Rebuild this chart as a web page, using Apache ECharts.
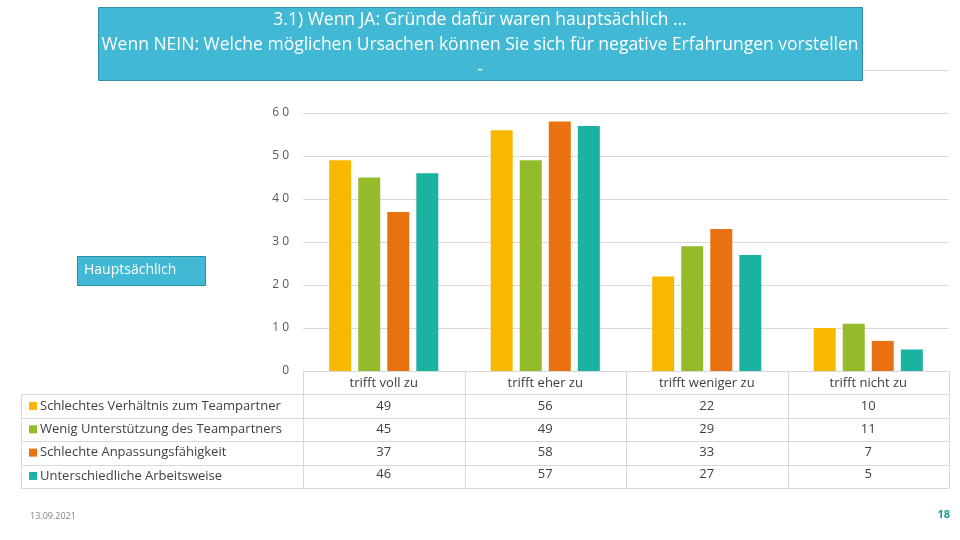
<!DOCTYPE html>
<html><head><meta charset="utf-8">
<script src="https://cdn.jsdelivr.net/npm/echarts@6/dist/echarts.min.js"></script>
<style>html,body{margin:0;padding:0;background:#fff}#c{width:960px;height:540px}</style>
</head><body><div id="c"></div>
<script>
var categories = ['trifft voll zu', 'trifft eher zu', 'trifft weniger zu', 'trifft nicht zu'];
var seriesNames = ['Schlechtes Verhältnis zum Teampartner', 'Wenig Unterstützung des Teampartners', 'Schlechte Anpassungsfähigkeit', 'Unterschiedliche Arbeitsweise'];
var verhaeltnis = [49, 56, 22, 10];
var unterstuetzung = [45, 49, 29, 11];
var anpassung = [37, 58, 33, 7];
var arbeitsweise = [46, 57, 27, 5];
var yTicks = [0, 10, 20, 30, 40, 50, 60];
var titleText = '3.1) Wenn JA: Gründe dafür waren hauptsächlich …\nWenn NEIN: Welche möglichen Ursachen können Sie sich für negative Erfahrungen vorstellen\n-';
var sideLabel = 'Hauptsächlich';
var dateText = '13.09.2021';
var pageText = '18';

var colors = ['#F9B800', '#94BC2A', '#EA710F', '#1AB2A0'];
var allSeries = [verhaeltnis, unterstuetzung, anpassung, arbeitsweise];
var font = '"Open Sans", "Noto Sans", sans-serif';

var G = {left: 303, right: 949, top: 113, bottom: 371};
var rowH = 23.5;
var tableLines = [];
var lc = '#D9D9D9';
function hl(x1, x2, y) { tableLines.push({type: 'line', silent: true, shape: {x1: x1, y1: y, x2: x2, y2: y}, style: {stroke: lc, lineWidth: 1}}); }
function vl(x, y1, y2) { tableLines.push({type: 'line', silent: true, shape: {x1: x, y1: y1, x2: x, y2: y2}, style: {stroke: lc, lineWidth: 1}}); }
var tableTop = 394;
var tableBottom = tableTop + rowH * seriesNames.length;
for (var r = 0; r <= seriesNames.length; r++) hl(21, G.right, Math.round(tableTop + r * rowH) + 0.5);
vl(21.5, tableTop + 0.5, Math.round(tableBottom) + 0.5);
var cw = (G.right - G.left) / categories.length;
for (var c = 0; c <= categories.length; c++) vl(Math.round(G.left + c * cw) + 0.5, G.bottom, Math.round(tableBottom) + 0.5);

var chart = echarts.init(document.getElementById('c'), null, {renderer: 'canvas'});
chart.setOption({
  animation: false,
  color: colors,
  grid: {left: G.left, right: 960 - G.right, top: G.top, bottom: 540 - G.bottom, containLabel: false},
  legend: {
    orient: 'vertical', left: 24, top: tableTop - 1, itemGap: 7.3,
    icon: 'rect', itemWidth: 8, itemHeight: 8,
    data: seriesNames,
    textStyle: {color: '#404040', fontSize: 13, fontFamily: font, lineHeight: 16, padding: [0, 0, 0, -2]},
    selectedMode: false
  },
  xAxis: {
    type: 'category', data: categories,
    axisLine: {show: false}, axisTick: {show: false},
    axisLabel: {
      margin: 1, color: '#404040', fontFamily: font, fontSize: 13, lineHeight: 22.8,
      formatter: function (v, i) {
        var lines = [v];
        for (var s = 0; s < allSeries.length; s++) lines.push(String(allSeries[s][i]));
        return lines.join('\n');
      }
    }
  },
  yAxis: {
    type: 'value', min: 0, max: 60, interval: 10,
    axisLine: {show: false}, axisTick: {show: false},
    splitLine: {lineStyle: {color: '#D9D9D9'}},
    axisLabel: {margin: 14, color: '#595959', fontFamily: font, fontSize: 12,
      formatter: function (v) { return yTicks.indexOf(v) >= 0 ? String(v).split('').join(' ') : ''; }}
  },
  series: allSeries.map(function (d, i) {
    return {name: seriesNames[i], type: 'bar', data: d, barWidth: 22, barGap: '32%'};
  }),
  graphic: tableLines.concat([
    {type: 'line', silent: true, shape: {x1: 862, y1: 70.5, x2: 949, y2: 70.5}, style: {stroke: '#D9D9D9', lineWidth: 1}},
    {type: 'rect', shape: {x: 98.5, y: 7.5, width: 764, height: 73}, style: {fill: '#41B8D4', stroke: '#2C8FA8', lineWidth: 1}},
    {type: 'text', x: 480, y: 45, style: {text: titleText, fill: '#FFFFFF', font: '17.5px ' + font, align: 'center', verticalAlign: 'middle', lineHeight: 25}},
    {type: 'rect', shape: {x: 77.5, y: 256.5, width: 128, height: 29}, style: {fill: '#41B8D4', stroke: '#2C8FA8', lineWidth: 1}},
    {type: 'text', x: 84, y: 270, style: {text: sideLabel, fill: '#FFFFFF', font: '14px ' + font, align: 'left', verticalAlign: 'middle'}},
    {type: 'text', x: 30, y: 516, style: {text: dateText, fill: '#7F7F7F', font: '9px ' + font, align: 'left', verticalAlign: 'middle'}},
    {type: 'text', x: 950, y: 515, style: {text: pageText, fill: '#1A9C9C', font: 'bold 11px ' + font, align: 'right', verticalAlign: 'middle'}}
  ])
});
</script></body></html>
